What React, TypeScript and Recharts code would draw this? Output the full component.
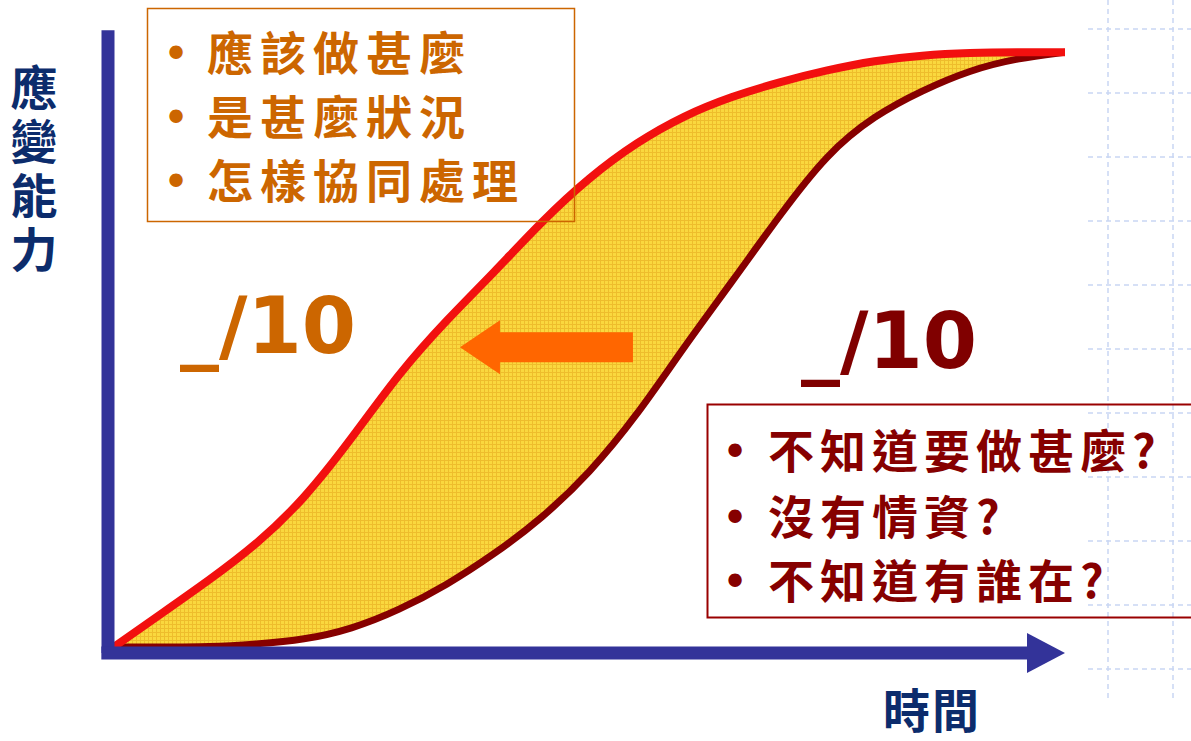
import { ComposedChart, Area, Line, XAxis, YAxis, ReferenceLine, ReferenceDot } from "recharts";

// time axis, in percent of the drawing width
const timeSteps = [0, 5, 10, 15, 20, 25, 30, 35, 40, 45, 50, 55, 60, 65, 70, 75, 80, 85, 90, 95, 100];
// red curve: prepared team
const preparedCurve = [0, 5.6, 11.2, 17.2, 24.8, 35.0, 46.1, 55.0, 63.0, 71.6, 79.0, 84.9, 89.4, 92.6, 95.0, 97.0, 98.6, 99.5, 99.9, 100, 100];
// dark red curve: unprepared team
const unpreparedCurve = [0, 0, 0, 0.5, 1.2, 3.0, 6.2, 10.4, 15.6, 21.6, 29.2, 38.9, 50.6, 61.4, 72.6, 83.0, 89.4, 93.6, 97.0, 99.0, 100];

const yLabel = "應變能力";
const xLabel = "時間";
const preparedNotes = ["應該做甚麼", "是甚麼狀況", "怎樣協同處理"];
const unpreparedNotes = ["不知道要做甚麼?", "沒有情資?", "不知道有誰在?"];
const scoreText = "_/10";

const chartData = timeSteps.map((t, i) => ({
  t,
  upper: preparedCurve[i],
  lower: unpreparedCurve[i],
}));

const AXIS_BLUE = "#333399";
const RED = "#f2100f";
const DARK_RED = "#860000";
const ORANGE_TEXT = "#cc6600";
const ARROW_ORANGE = "#ff6600";
const NAVY = "#0c2c6c";
const CJK = "'Noto Sans CJK TC', 'Noto Sans CJK SC', sans-serif";

const W = 1191;
const H = 741;

function Arrowhead(props: any) {
  const { cx, cy } = props;
  return <polygon points={`${cx},${cy} ${cx - 38},${cy - 20} ${cx - 38},${cy + 20}`} fill={AXIS_BLUE} />;
}

function LeftArrow(props: any) {
  const { cx, cy } = props;
  const pts = [
    [0, 0], [40, -27], [40, -15], [173, -15], [173, 15], [40, 15], [40, 27],
  ].map(([dx, dy]) => `${cx + dx},${cy + dy}`).join(" ");
  return <polygon points={pts} fill={ARROW_ORANGE} />;
}

function BackgroundGrid() {
  const rows = [29, 93, 157, 221, 285, 349, 413, 477, 541, 605, 669];
  const cols = [1108, 1173];
  return (
    <svg width={W} height={H} style={{ position: "absolute", left: 0, top: 0 }}>
      {rows.map((y) => (
        <line key={`h${y}`} x1={1088} x2={W} y1={y} y2={y} stroke="#c9d6f4" strokeWidth={1.5} strokeDasharray="5 4" />
      ))}
      {cols.map((x) => (
        <line key={`v${x}`} x1={x} x2={x} y1={0} y2={702} stroke="#c9d6f4" strokeWidth={1.5} strokeDasharray="5 4" />
      ))}
    </svg>
  );
}

function Annotations() {
  const upperBase = [70, 134, 198];
  const lowerBase = [468, 534, 598];
  return (
    <svg width={W} height={H} style={{ position: "absolute", left: 0, top: 0, pointerEvents: "none" }}>
      {/* vertical axis title */}
      <text
        x={34}
        y={64}
        fontFamily={CJK}
        fontWeight={700}
        fontSize={47}
        letterSpacing={7}
        fill={NAVY}
        style={{ writingMode: "vertical-rl" }}
      >
        {yLabel}
      </text>
      <text x={883} y={728} fontFamily={CJK} fontWeight={700} fontSize={47} fill={NAVY} letterSpacing={2}>
        {xLabel}
      </text>

      <rect x={147.5} y={8.5} width={427} height={213} fill="none" stroke={ORANGE_TEXT} strokeWidth={1.5} />
      {preparedNotes.map((n, i) => (
        <g key={n}>
          <text x={176} y={upperBase[i]} textAnchor="middle" fontFamily="DejaVu Sans" fontSize={46} fill={ORANGE_TEXT}>•</text>
          <text x={207} y={upperBase[i]} fontFamily={CJK} fontWeight={700} fontSize={46} letterSpacing={7} fill={ORANGE_TEXT}>
            {n}
          </text>
        </g>
      ))}

      <rect x={707.5} y={404.5} width={500} height={213} fill="none" stroke="#990000" strokeWidth={2} />
      {unpreparedNotes.map((n, i) => (
        <g key={n}>
          <text x={735} y={lowerBase[i]} textAnchor="middle" fontFamily="DejaVu Sans" fontSize={46} fill={DARK_RED}>•</text>
          <text x={768} y={lowerBase[i]} fontFamily={CJK} fontWeight={700} fontSize={46} letterSpacing={6} fill={DARK_RED}>
            {n}
          </text>
        </g>
      ))}

      <text x={180} y={353} fontFamily="'DejaVu Sans', sans-serif" fontWeight={700} fontSize={78} fill={ORANGE_TEXT}>
        {scoreText}
      </text>
      <text x={801} y={368} fontFamily="'DejaVu Sans', sans-serif" fontWeight={700} fontSize={78} fill="#800000">
        {scoreText}
      </text>
    </svg>
  );
}

export default function App() {
  return (
    <div style={{ position: "absolute", left: 0, top: 0, width: W, height: H, background: "#ffffff", overflow: "hidden" }}>
      <BackgroundGrid />
      <div style={{ position: "absolute", left: 0, top: 0 }}>
        <ComposedChart width={W} height={H} data={chartData} margin={{ top: 32, left: 108, right: 126, bottom: 88 }}>
          <defs>
            <pattern id="meshFill" width={4} height={4} patternUnits="userSpaceOnUse">
              <rect width={4} height={4} fill="#fad83e" />
              <path d="M0 0.5 H4 M0.5 0 V4" stroke="#eebd2c" strokeWidth={1} />
            </pattern>
          </defs>
          <XAxis dataKey="t" type="number" domain={[-0.6, 100]} allowDataOverflow hide />
          <YAxis type="number" domain={[-1, 103.4]} allowDataOverflow hide />
          <Area
            dataKey={(d: any) => [d.lower, d.upper]}
            type="basis"
            stroke="none"
            fill="url(#meshFill)"
            fillOpacity={1}
            isAnimationActive={false}
          />
          <Line dataKey="lower" type="basis" stroke={DARK_RED} strokeWidth={7} dot={false} activeDot={false} isAnimationActive={false} />
          <Line dataKey="upper" type="basis" stroke={RED} strokeWidth={8} dot={false} activeDot={false} isAnimationActive={false} />
          <ReferenceLine
            segment={[{ x: -0.6, y: -1 }, { x: -0.6, y: 103.7 }]}
            stroke={AXIS_BLUE}
            strokeWidth={13}
            ifOverflow="visible"
          />
          <ReferenceLine
            segment={[{ x: -1.3, y: -1 }, { x: 96.5, y: -1 }]}
            stroke={AXIS_BLUE}
            strokeWidth={13}
            ifOverflow="visible"
          />
          <ReferenceDot x={100} y={-1} r={1} shape={Arrowhead} ifOverflow="visible" />
          <ReferenceDot x={36.4} y={50.4} r={1} shape={LeftArrow} ifOverflow="visible" />
        </ComposedChart>
      </div>
      <Annotations />
    </div>
  );
}
